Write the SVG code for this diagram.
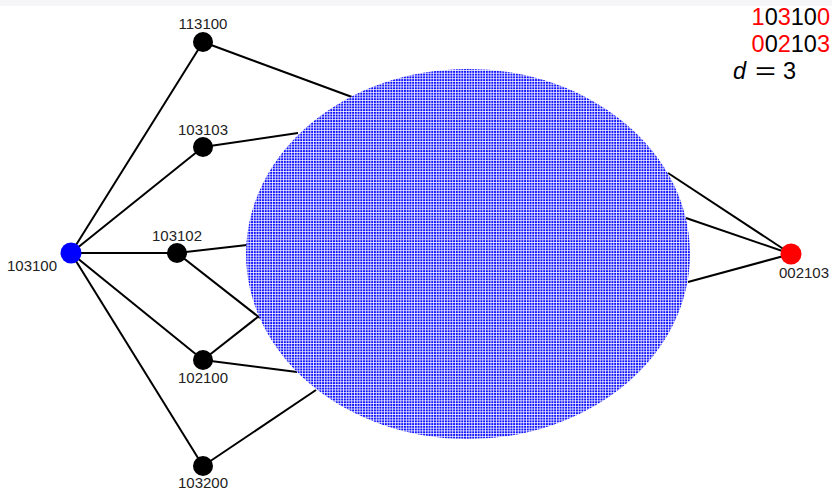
<svg xmlns="http://www.w3.org/2000/svg" width="832" height="492" viewBox="0 0 832 492">
<style>
.e{stroke:#000;stroke-width:2;fill:none}
.n{fill:#000}
.l{font-family:"Liberation Sans",Arial,sans-serif;font-size:15px;fill:#222}
.t{font-family:"Liberation Sans",Arial,sans-serif;font-size:23.5px;fill:#000}
.r{fill:#f00}
</style>
<defs>
<pattern id="grid" width="2.73" height="2.73" patternUnits="userSpaceOnUse">
<rect width="2.73" height="2.73" fill="#1010ff"/>
<rect x="0" y="1.9" width="2.73" height="0.83" fill="#fff" fill-opacity="0.9"/>
<rect x="1.9" y="0" width="0.83" height="2.73" fill="#fff" fill-opacity="0.9"/>
</pattern>
</defs>
<rect x="0" y="0" width="832" height="6" fill="#f6f6f9"/>
<g id="connectors">
<line class="e" x1="71" y1="253" x2="203" y2="42"/>
<line class="e" x1="71" y1="253" x2="203" y2="147"/>
<line class="e" x1="71" y1="253" x2="177" y2="253"/>
<line class="e" x1="71" y1="253" x2="203" y2="360"/>
<line class="e" x1="71" y1="253" x2="203" y2="466"/>
<line class="e" x1="203" y1="42" x2="352" y2="97"/>
<line class="e" x1="203" y1="147" x2="298" y2="133"/>
<line class="e" x1="177" y1="253" x2="247" y2="245"/>
<line class="e" x1="177" y1="253" x2="260" y2="318"/>
<line class="e" x1="203" y1="360" x2="259" y2="316"/>
<line class="e" x1="203" y1="360" x2="297" y2="372"/>
<line class="e" x1="203" y1="466" x2="316" y2="390"/>
<line class="e" x1="791" y1="254" x2="668" y2="173"/>
<line class="e" x1="791" y1="254" x2="686" y2="218"/>
<line class="e" x1="791" y1="254" x2="688" y2="282"/>
</g>
<g id="region">
<ellipse cx="468" cy="254" rx="222" ry="185" fill="url(#grid)"/>
</g>
<g id="n103100"><circle cx="71" cy="253" r="10.5" fill="#00f"/><text class="l" x="7" y="271">103100</text></g>
<g id="n113100"><circle class="n" cx="203" cy="42" r="10"/><text class="l" x="203" y="29" text-anchor="middle">113100</text></g>
<g id="n103103"><circle class="n" cx="203" cy="147" r="10"/><text class="l" x="203" y="135" text-anchor="middle">103103</text></g>
<g id="n103102"><circle class="n" cx="177" cy="253" r="10"/><text class="l" x="177" y="241" text-anchor="middle">103102</text></g>
<g id="n102100"><circle class="n" cx="203" cy="360" r="10"/><text class="l" x="203" y="383" text-anchor="middle">102100</text></g>
<g id="n103200"><circle class="n" cx="203" cy="466" r="10"/><text class="l" x="203" y="488" text-anchor="middle">103200</text></g>
<g id="n002103"><circle cx="791" cy="254" r="10.5" fill="#f00"/><text class="l" x="804" y="278" text-anchor="middle">002103</text></g>
<g id="info">
<text class="t" x="830" y="25" text-anchor="end"><tspan class="r">1</tspan>0<tspan class="r">3</tspan>10<tspan class="r">0</tspan></text>
<text class="t" x="830" y="52" text-anchor="end"><tspan class="r">0</tspan>0<tspan class="r">2</tspan>10<tspan class="r">3</tspan></text>
<text class="t" x="733" y="79" font-style="italic">d</text>
<text class="t" x="755" y="79" textLength="21" lengthAdjust="spacingAndGlyphs" fill="#333">=</text>
<text class="t" x="783" y="79">3</text>
</g>
</svg>
